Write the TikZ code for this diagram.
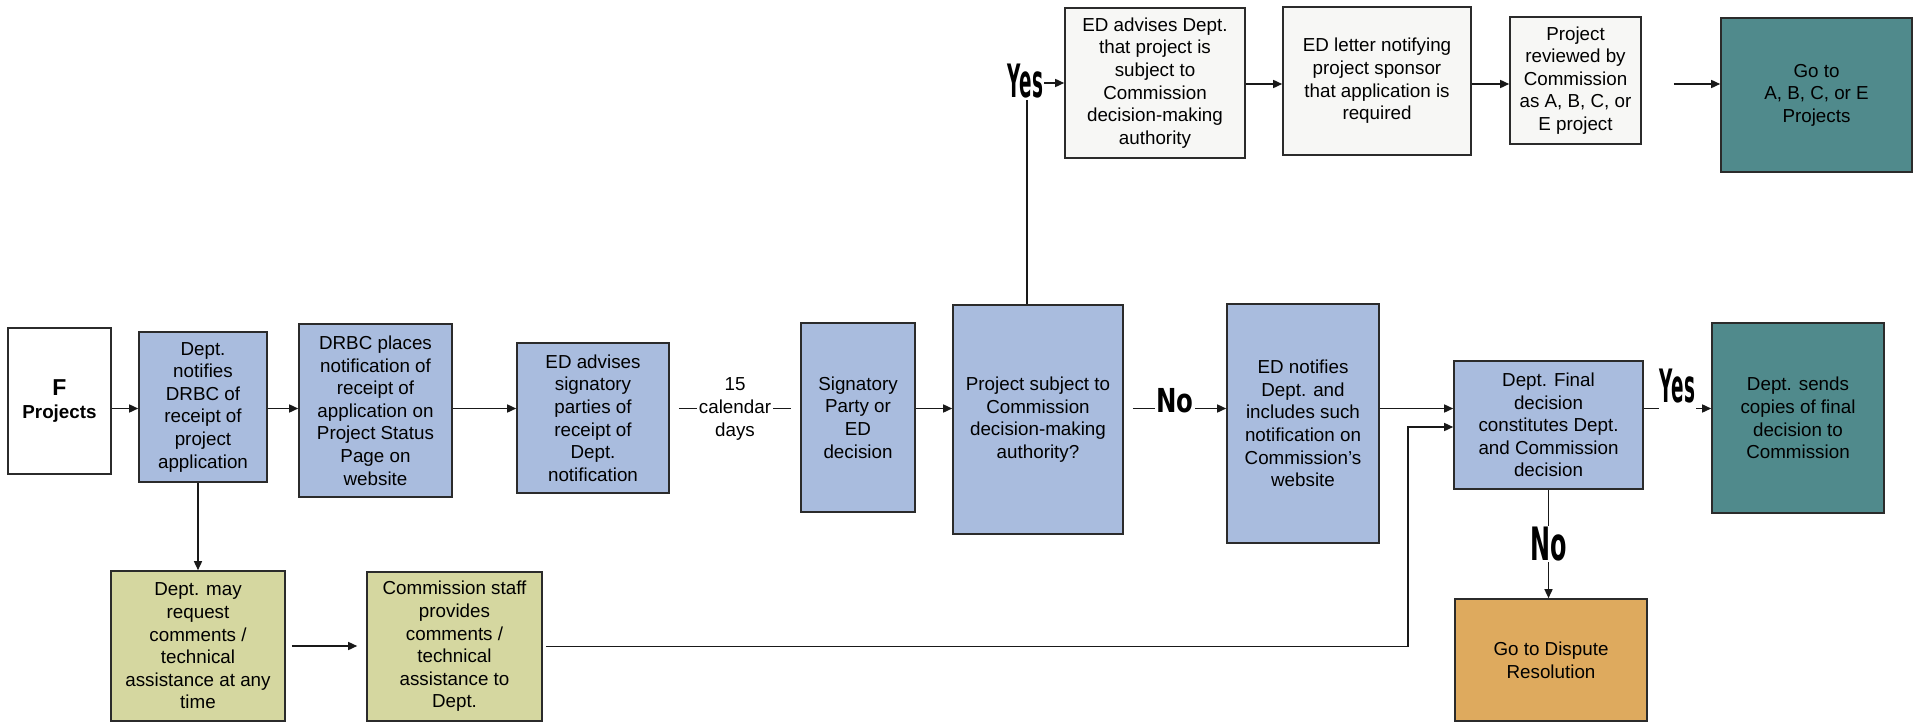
\documentclass[tikz,border=0pt]{standalone}
\usepackage{fontspec}
\usepackage{graphicx}
\setmainfont{Liberation Sans}
\newfontfamily\ynfont{DejaVu Sans}
\usetikzlibrary{arrows.meta,calc}

\definecolor{procblue}{HTML}{A9BCDE}
\definecolor{reqolive}{HTML}{D5D7A0}
\definecolor{goteal}{HTML}{508A8C}
\definecolor{dispamber}{HTML}{DEAA5E}
\definecolor{notewhite}{HTML}{F7F7F5}
\definecolor{edgegray}{HTML}{2B2B2B}

% condensed bold decision label: text, size, horizontal scale
\newcommand{\yn}[3]{\scalebox{#3}[1]{\fontsize{#2}{#2}\selectfont\ynfont\bfseries #1}}

\tikzset{
  box/.style={draw=edgegray, line width=1.6pt, align=center, inner sep=2pt,
    font=\fontsize{18.8}{22.6}\selectfont},
  bluebox/.style={box, fill=procblue},
  olivebox/.style={box, fill=reqolive},
  tealbox/.style={box, fill=goteal},
  amberbox/.style={box, fill=dispamber},
  notebox/.style={box, fill=notewhite},
  conn/.style={line width=1.5pt, draw=black!90},
  arr/.style={conn, -{Triangle[length=9pt,width=8pt]}},
}

\begin{document}
\begin{tikzpicture}[x=1pt,y=-1pt]
\useasboundingbox (0,0) rectangle (1914,723);
\coordinate (row) at (0,408.5);
\coordinate (trow) at (0,84);

% main row
\node[box, fill=white, minimum width=103pt, minimum height=146pt] (F) at (59.5,401)
  {{\fontsize{23}{26}\selectfont\bfseries F}\\{\bfseries Projects}};
\node[bluebox, minimum width=128pt, minimum height=150pt] (dn) at (203,407)
  {Dept.\\notifies\\DRBC of\\receipt of\\project\\application};
\node[bluebox, minimum width=153pt, minimum height=173pt] (drbc) at (375.5,410.5)
  {DRBC places\\notification of\\receipt of\\application on\\Project Status\\Page on\\website};
\node[bluebox, minimum width=152pt, minimum height=150pt] (eda) at (593,418)
  {ED advises\\signatory\\parties of\\receipt of\\Dept.\\notification};
\node[bluebox, minimum width=114pt, minimum height=189pt] (sig) at (858,417.5)
  {Signatory\\Party or\\ED\\decision};
\node[bluebox, minimum width=170pt, minimum height=229pt] (proj) at (1038,419.5)
  {Project subject to\\Commission\\decision-making\\authority?};
\node[bluebox, minimum width=152pt, minimum height=239pt] (edn) at (1303,423.5)
  {ED notifies\\Dept. and\\includes such\\notification on\\Commission's\\website};
\node[bluebox, minimum width=189pt, minimum height=128pt] (final) at (1548.5,425)
  {Dept. Final\\decision\\constitutes Dept.\\and Commission\\decision};
\node[tealbox, minimum width=172pt, minimum height=190pt] (sends) at (1798,418)
  {Dept. sends\\copies of final\\decision to\\Commission};
\node[amberbox, minimum width=192pt, minimum height=122pt] (dispute) at (1551,660)
  {Go to Dispute\\Resolution};

% comment / assistance branch
\node[olivebox, minimum width=174pt, minimum height=150pt] (req) at (198,646)
  {Dept. may\\request\\comments /\\technical\\assistance at any\\time};
\node[olivebox, minimum width=175pt, minimum height=149pt] (staff) at (454.5,646.5)
  {Commission staff\\provides\\comments /\\technical\\assistance to\\Dept.};

% top row
\node[notebox, minimum width=180pt, minimum height=150pt] (top1) at (1155,83)
  {ED advises Dept.\\that project is\\subject to\\Commission\\decision-making\\authority};
\node[notebox, minimum width=188pt, minimum height=148pt] (top2) at (1377,81)
  {ED letter notifying\\project sponsor\\that application is\\required};
\node[notebox, minimum width=131pt, minimum height=127pt] (top3) at (1575.5,80.5)
  {Project\\reviewed by\\Commission\\as A, B, C, or\\E project};
\node[tealbox, minimum width=191pt, minimum height=154pt] (goto) at (1816.5,95)
  {Go to\\A, B, C, or E\\Projects};

% connectors, main row
\draw[arr] (F.east |- row) -- (dn.west |- row);
\draw[arr] (dn.east |- row) -- (drbc.west |- row);
\draw[arr] (drbc.east |- row) -- (eda.west |- row);
\draw[conn, shorten <=9pt, shorten >=9pt] (eda.east |- row) --
  node[midway, fill=white, inner xsep=2pt, inner ysep=1pt, align=center,
       font=\fontsize{18.8}{23}\selectfont] (days) {15\\calendar\\days}
  (sig.west |- row);
\draw[arr] (sig.east |- row) -- (proj.west |- row);
\draw[arr, shorten <=9pt] (proj.east |- row) --
  node[midway, anchor=base, yshift=-3.5pt, fill=white, inner sep=1pt] (no1) {\yn{No}{33}{0.74}}
  (edn.west |- row);
\draw[arr] (edn.east |- row) -- (final.west |- row);
\draw[arr] (final.east |- row) --
  node[midway, anchor=base, yshift=6.5pt, fill=white, inner xsep=1pt, inner ysep=1pt, text depth=8pt] (yes2) {\yn{Yes}{46}{0.4}}
  (sends.west |- row);
\draw[arr] (final.south) --
  node[midway, fill=white, inner sep=1pt] (no2) {\yn{No}{46}{0.52}}
  (final.south |- dispute.north);

% branch connectors
\draw[arr] (req.north |- dn.south) -- (req.north);
\draw[arr, shorten <=6pt, shorten >=9pt] (req.east) -- (staff.west |- req.east);
\coordinate (bend) at (1408,427);
\draw[arr, shorten <=3pt] (staff.east) -| (bend) -- (final.west |- bend);

% yes branch to the top row
\draw[arr] ($(proj.north)+(-11,0)$) |- (top1.west);
\node[fill=white, inner sep=1pt] (yes1) at (1025.5,81.5) {\yn{Yes}{46}{0.4}};
\draw[arr] (top1.east |- trow) -- (top2.west |- trow);
\draw[arr] (top2.east |- trow) -- (top3.west |- trow);
\draw[arr, shorten <=32pt] (top3.east |- trow) -- (goto.west |- trow);
\end{tikzpicture}
\end{document}
